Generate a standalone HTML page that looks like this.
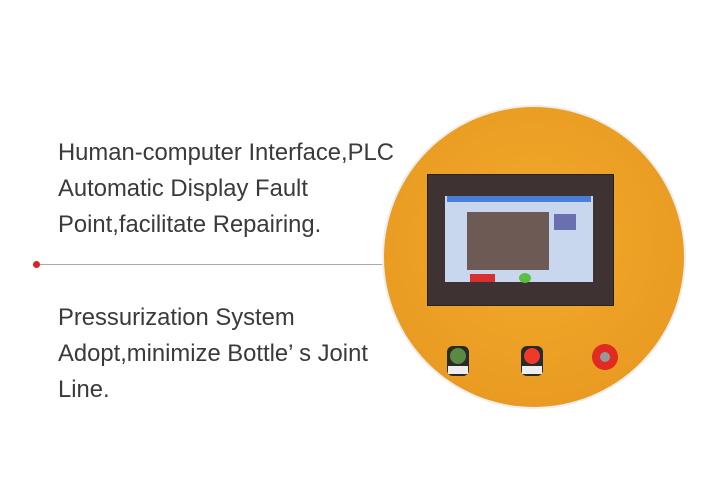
<!DOCTYPE html><html><head><style>
body{margin:0;width:709px;height:479px;background:#fff;position:relative;overflow:hidden;font-family:"Liberation Sans",sans-serif}
.t{position:absolute;left:58px;font-size:23.8px;color:#3a3a3a;line-height:36px;white-space:nowrap}
</style></head><body>
<div class="t" style="top:135px">Human-computer Interface,PLC<br>Automatic Display Fault<br>Point,facilitate Repairing.</div>
<div class="t" style="top:300px">Pressurization System<br>Adopt,minimize Bottle’ s Joint<br>Line.</div>
<div style="position:absolute;left:37px;top:264px;width:348px;height:1px;background:#aaa"></div>
<div style="position:absolute;left:33px;top:261px;width:7px;height:7px;border-radius:50%;background:#e02020"></div>
<div style="position:absolute;left:384px;top:107px;width:300px;height:300px;border-radius:50%;background:radial-gradient(circle at 50% 45%,#f2ac2a,#e99a22 75%,#e08c1e);box-shadow:0 0 0 2px #eee"></div>
<div style="position:absolute;left:427px;top:174px;width:185px;height:130px;background:#3e3332;border:1px solid #222"></div>
<div style="position:absolute;left:445px;top:196px;width:148px;height:86px;background:#c8d6ee"></div>
<div style="position:absolute;left:447px;top:196px;width:144px;height:6px;background:#4a7fd8"></div>
<div style="position:absolute;left:467px;top:212px;width:82px;height:58px;background:#6d5a55"></div>
<div style="position:absolute;left:554px;top:214px;width:22px;height:16px;background:#6a6fb0"></div>
<div style="position:absolute;left:470px;top:274px;width:25px;height:8px;background:#d83030"></div>
<div style="position:absolute;left:519px;top:273px;width:12px;height:10px;border-radius:50%;background:#5ac040"></div>
<div style="position:absolute;left:447px;top:346px;width:22px;height:30px;background:#2a2a2a;border-radius:6px"></div>
<div style="position:absolute;left:450px;top:348px;width:16px;height:16px;border-radius:50%;background:#5a8a40"></div>
<div style="position:absolute;left:448px;top:366px;width:20px;height:8px;background:#eee"></div>
<div style="position:absolute;left:521px;top:346px;width:22px;height:30px;background:#2a2a2a;border-radius:6px"></div>
<div style="position:absolute;left:524px;top:348px;width:16px;height:16px;border-radius:50%;background:#ee3a2a"></div>
<div style="position:absolute;left:522px;top:366px;width:20px;height:8px;background:#eee"></div>
<div style="position:absolute;left:592px;top:344px;width:26px;height:26px;border-radius:50%;background:#e02a22"></div>
<div style="position:absolute;left:600px;top:352px;width:10px;height:10px;border-radius:50%;background:#999"></div>
</body></html>
